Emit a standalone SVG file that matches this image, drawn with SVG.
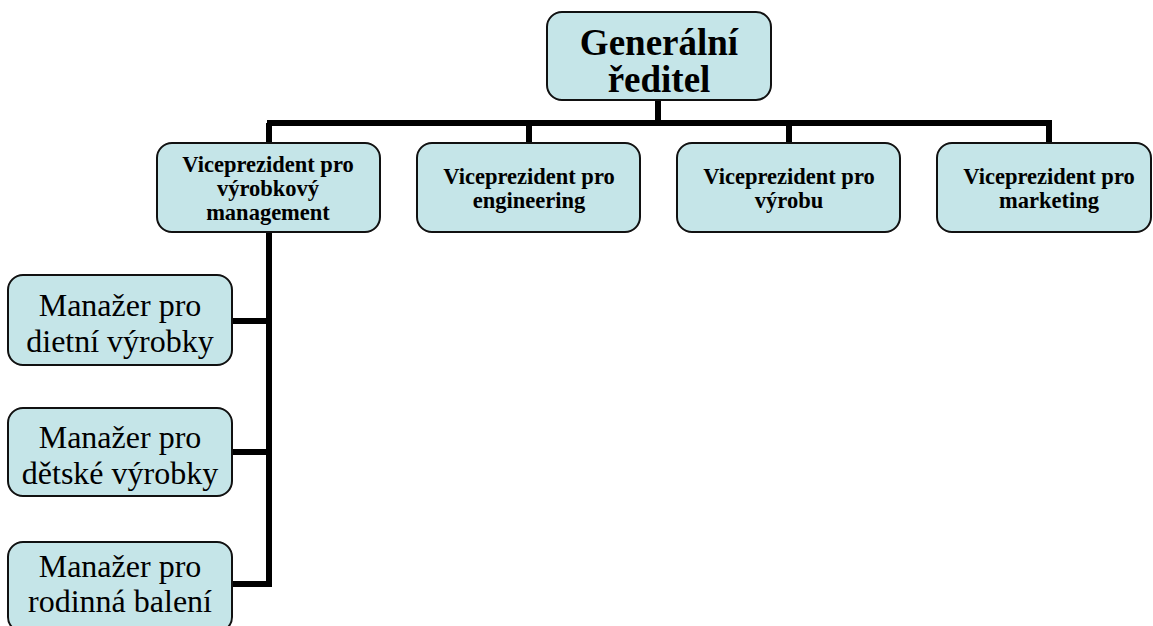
<svg xmlns="http://www.w3.org/2000/svg" width="1153" height="626" viewBox="0 0 1153 626">
<style>
.box{fill:#c5e5e8;stroke:#111;stroke-width:2}
.conn{fill:none;stroke:#000;stroke-width:6;stroke-linejoin:miter}
text{font-family:'Liberation Serif','Times New Roman',Times,'DejaVu Serif',serif;fill:#000;text-anchor:middle}
.t1{font-weight:bold;font-size:37px}
.t2{font-weight:bold;font-size:22.5px}
.t3{font-size:32px}
</style>
<rect width="1153" height="626" fill="#fff"/>
<g id="connectors">
<path class="conn" d="M658 100V123M267 123H1052M269 123V143M529 123V143M789 123V143M1049 123V143"/>
<path class="conn" d="M269 232V587M232 321H272M232 452H272M232 584H272"/>
</g>
<g id="ceo">
<rect class="box" x="547" y="12" width="224" height="88" rx="15"/>
<text class="t1" x="659" y="55">Generální</text>
<text class="t1" x="659" y="92">ředitel</text>
</g>
<g id="vp1">
<rect class="box" x="157" y="143" width="223" height="89" rx="15"/>
<text class="t2" x="268" y="172">Viceprezident pro</text>
<text class="t2" x="268" y="196">výrobkový</text>
<text class="t2" x="268" y="220">management</text>
</g>
<g id="vp2">
<rect class="box" x="417" y="143" width="223" height="89" rx="15"/>
<text class="t2" x="529" y="184">Viceprezident pro</text>
<text class="t2" x="529" y="208">engineering</text>
</g>
<g id="vp3">
<rect class="box" x="677" y="143" width="223" height="89" rx="15"/>
<text class="t2" x="789" y="184">Viceprezident pro</text>
<text class="t2" x="789" y="208">výrobu</text>
</g>
<g id="vp4">
<rect class="box" x="937" y="143" width="214" height="89" rx="15"/>
<text class="t2" x="1049" y="184">Viceprezident pro</text>
<text class="t2" x="1049" y="208">marketing</text>
</g>
<g id="m1">
<rect class="box" x="8" y="275" width="224" height="90" rx="15"/>
<text class="t3" x="120" y="316">Manažer pro</text>
<text class="t3" x="120" y="352">dietní výrobky</text>
</g>
<g id="m2">
<rect class="box" x="8" y="408" width="224" height="88" rx="15"/>
<text class="t3" x="120" y="448">Manažer pro</text>
<text class="t3" x="120" y="484">dětské výrobky</text>
</g>
<g id="m3">
<rect class="box" x="8" y="542" width="224" height="90" rx="15"/>
<text class="t3" x="120" y="577">Manažer pro</text>
<text class="t3" x="120" y="612">rodinná balení</text>
</g>
</svg>
